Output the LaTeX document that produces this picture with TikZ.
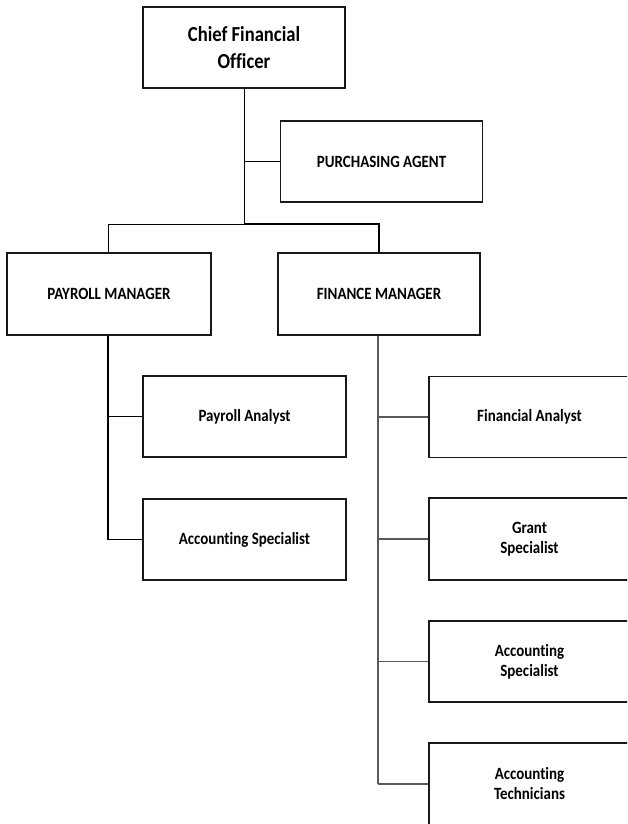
\documentclass[tikz,border=0pt]{standalone}
\usepackage{fontspec}
\setmainfont{Carlito}[Ligatures=NoCommon]
\newfontfamily\boxfont{Carlito}[FakeStretch=0.87, Ligatures=NoCommon]
\begin{document}
\begin{tikzpicture}[x=1pt,y=-1pt,
  box/.style={draw=black!90, line width=1.4pt, minimum width=202pt, minimum height=81pt, inner sep=0pt, align=center, font=\boxfont\fontsize{17.2}{20}\selectfont\bfseries},
  topbox/.style={box, line width=2.8pt, font=\boxfont\fontsize{21.4}{27}\selectfont\bfseries},
  thinline/.style={draw=black, line width=1pt},
  thickline/.style={draw=black, line width=1.9pt},
  greyline/.style={draw=black!65, line width=1.3pt}]
\clip (0,0) rectangle (627,824);
\node[topbox] (cfo) at (244,47.5) {Chief Financial\\Officer};
\node[box] (pa) at (381.5,161.5) {PURCHASING AGENT};
\node[box, minimum width=204pt, minimum height=82pt] (pm) at (109,294) {PAYROLL MANAGER};
\node[box, minimum width=202pt, minimum height=82pt] (fm) at (379,294) {FINANCE MANAGER};
\node[box, minimum width=203pt] (pan) at (244.5,416.5) {Payroll Analyst};
\node[box, minimum width=203pt] (asl) at (244.5,539.5) {Accounting Specialist};
\node[box, minimum width=201pt] (fa) at (529.5,417) {Financial Analyst};
\node[box, minimum width=201pt, minimum height=82pt] (gs) at (529.5,539) {Grant\\Specialist};
\node[box, minimum width=201pt] (asr) at (529.5,661.5) {Accounting\\Specialist};
\node[box, minimum width=201pt, minimum height=82pt] (at) at (529.5,784) {Accounting\\Technicians};
\coordinate (j) at (244,224);
\coordinate (jl) at (108,224);
\coordinate (jr) at (379,224);
\draw[thinline] (cfo.south) -- (j);
\draw[thinline] (pa.west) -- (pa.west -| cfo.south);
\draw[thinline] (j) -- (jl) -- (jl |- pm.north);
\draw[thickline] (j) -- (jr) -- (fm.north);
\coordinate (pv) at (108,0);
\draw[thickline] (pm.south -| pv) -- (asl.west -| pv);
\draw[thinline] (pan.west) -- (pan.west -| pv);
\draw[thinline] (asl.west) -- (asl.west -| pv);
\coordinate (fv) at (378,0);
\draw[greyline] (fm.south -| fv) -- (at.west -| fv);
\draw[greyline] (fa.west) -- (fa.west -| fv);
\draw[greyline] (gs.west) -- (gs.west -| fv);
\draw[greyline] (asr.west) -- (asr.west -| fv);
\draw[greyline] (at.west) -- (at.west -| fv);
\end{tikzpicture}
\end{document}
